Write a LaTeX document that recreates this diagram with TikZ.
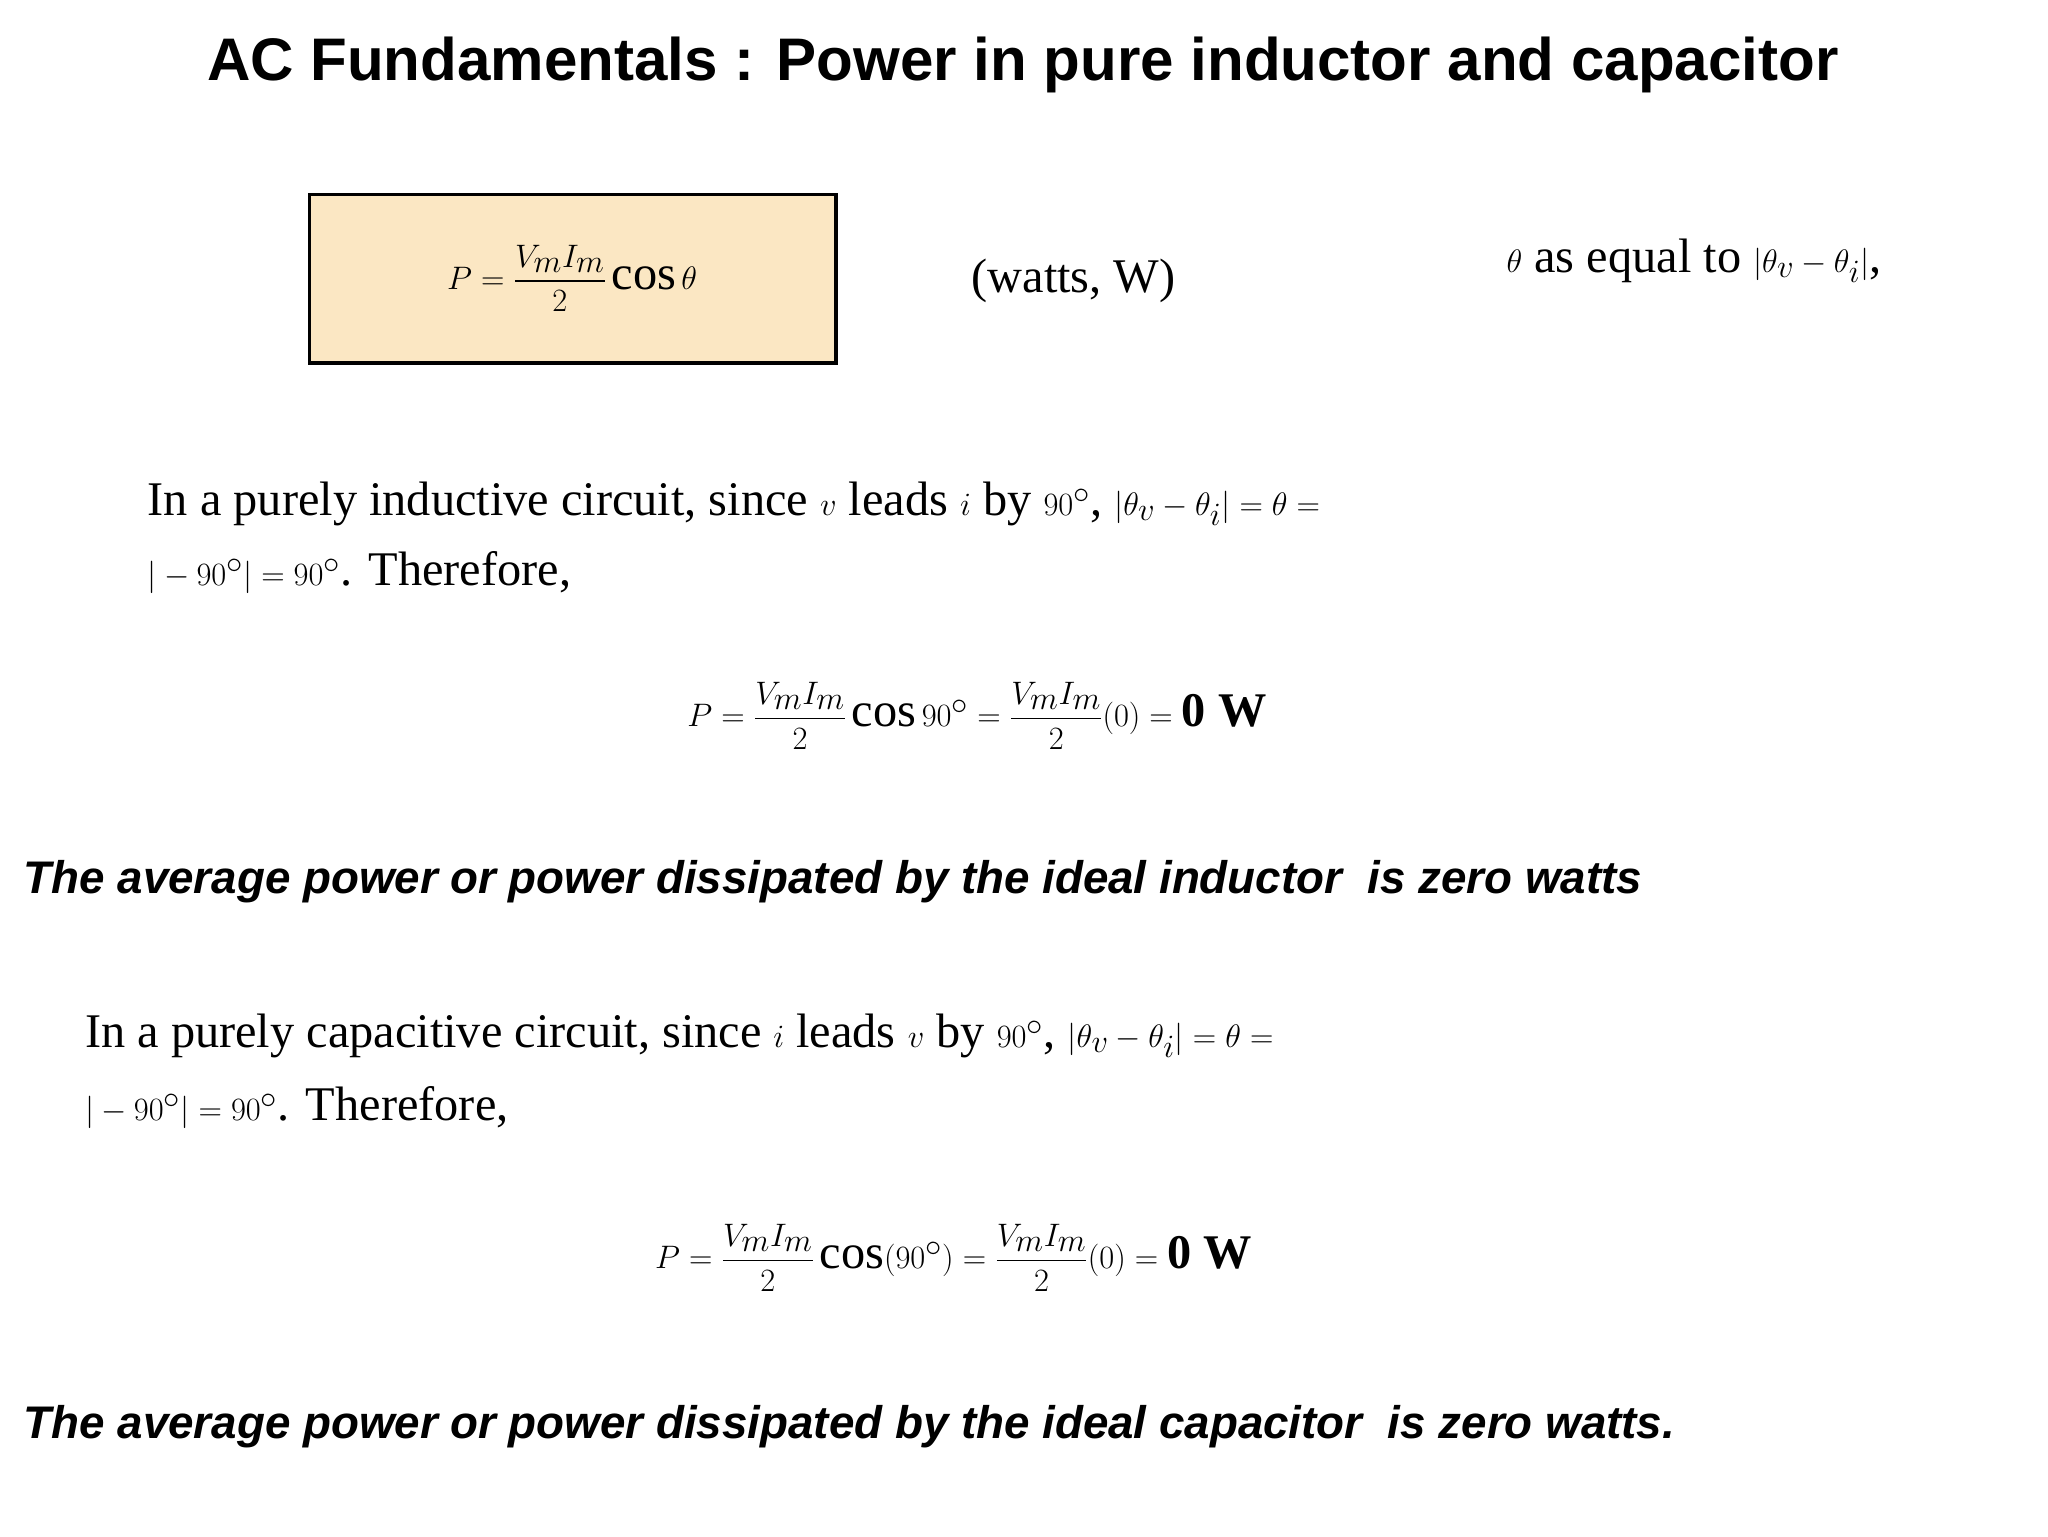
\documentclass[tikz,border=0pt]{standalone}
\usepackage{amsmath}
\usepackage{fontspec}
\setmainfont{Liberation Serif}
\newfontfamily\hsans{Liberation Sans}
\definecolor{boxfill}{HTML}{FBE7C3}
\tikzset{
 ttl/.style={font=\hsans\bfseries\fontsize{46}{50}\selectfont},
 txt/.style={anchor=west,inner sep=0pt,font=\fontsize{37}{42}\selectfont},
 eqn/.style={inner sep=0pt,font=\fontsize{37}{42}\selectfont},
 concl/.style={anchor=west,inner sep=0pt,font=\hsans\bfseries\itshape\fontsize{35}{40}\selectfont}
}
\begin{document}
\begin{tikzpicture}[x=1pt,y=-1pt]
\useasboundingbox (0,0) rectangle (1568,1176);
\node[ttl] (title) at (783,50) {AC Fundamentals : Power in pure inductor and capacitor};
\draw[line width=2.5pt,fill=boxfill] (237,149) rectangle (640,278);
\node[eqn] (f1) at (438,213) {$P=\dfrac{V_mI_m}{2}\cos\theta$};
\node[eqn] (w) at (822,215) {(watts, W)};
\node[eqn] (eq) at (1297,200) {$\theta$ as equal to $|\theta_v-\theta_i|$,};
\node[txt] (l1) at (113,386) {In a purely inductive circuit, since $v$ leads $i$ by $90^\circ$, $|\theta_v-\theta_i|=\theta=$};
\node[txt] (l2) at (113,438) {$|-90^\circ|=90^\circ$. Therefore,};
\node[eqn] (f2) at (748,548) {$P=\dfrac{V_mI_m}{2}\cos 90^\circ=\dfrac{V_mI_m}{2}(0)=\mathbf{0\ W}$};
\node[concl] (c1) at (18,675) {The average power or power dissipated by the ideal inductor\ \ is zero watts};
\node[txt] (l3) at (65,793) {In a purely capacitive circuit, since $i$ leads $v$ by $90^\circ$, $|\theta_v-\theta_i|=\theta=$};
\node[txt] (l4) at (65,848) {$|-90^\circ|=90^\circ$. Therefore,};
\node[eqn] (f3) at (730,963) {$P=\dfrac{V_mI_m}{2}\cos(90^\circ)=\dfrac{V_mI_m}{2}(0)=\mathbf{0\ W}$};
\node[concl] (c2) at (18,1092) {The average power or power dissipated by the ideal capacitor\ \ is zero watts.};
\end{tikzpicture}
\end{document}
